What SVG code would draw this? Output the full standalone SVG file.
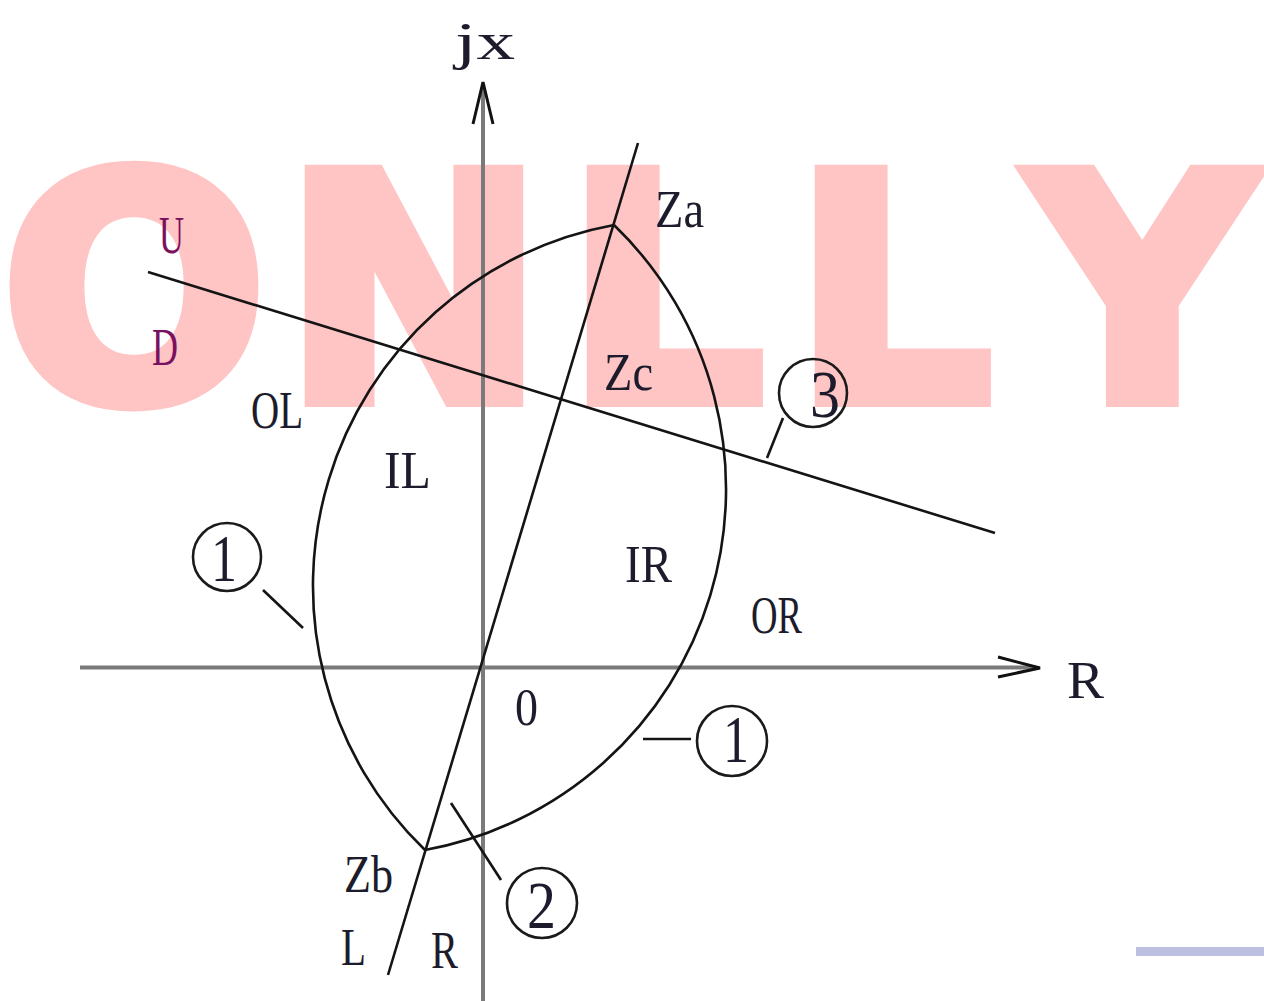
<svg xmlns="http://www.w3.org/2000/svg" width="1264" height="1001" viewBox="0 0 1264 1001">
<style>
.wm{font-family:"DejaVu Sans",sans-serif;font-weight:bold;font-size:313px;fill:#ffc4c4;stroke:#ffc4c4;stroke-width:14px;stroke-linejoin:miter}
.ln{fill:none;stroke:#141414;stroke-width:2.6}
.ax{fill:none;stroke:#7a7a7a;stroke-width:4}
.lb{font-family:"Liberation Serif",serif;font-size:52px;fill:#1c1c2c}
.ud{font-family:"Liberation Serif",serif;font-size:52px;fill:#7a1060}
.dg{font-family:"Liberation Serif",serif;font-size:68px;fill:#1c1c2c}
.ci{fill:none;stroke:#1a1a1a;stroke-width:2.6}
</style>
<rect width="1264" height="1001" fill="#ffffff"/>
<text class="wm" x="1 283 565 793 1029" y="400">ONLLY</text>
<g id="axes">
<line class="ax" x1="483" y1="1001" x2="483" y2="86"/>
<path d="M473 124 L483 82 L493 124" fill="none" stroke="#111" stroke-width="3"/>
<line class="ax" x1="80" y1="667.5" x2="1036" y2="667.5"/>
<path d="M998 657 L1040 668 L998 677" fill="none" stroke="#111" stroke-width="3"/>
<text class="lb" x="455" y="59" font-size="64" textLength="60" lengthAdjust="spacingAndGlyphs">jx</text>
<text class="lb" x="1067" y="698" font-size="70" textLength="37" lengthAdjust="spacingAndGlyphs">R</text>
</g>
<g id="connectors">
<path id="curve1" class="ln" d="M614 225 A367 367 0 0 0 425 850 A367 367 0 0 0 614 225"/>
<line id="line2" class="ln" x1="638" y1="143" x2="388" y2="975"/>
<line id="line3" class="ln" x1="148" y1="272" x2="995" y2="533"/>
<line class="ln" x1="263" y1="590" x2="303" y2="628"/>
<line class="ln" x1="643" y1="739" x2="691" y2="739"/>
<line class="ln" x1="451" y1="803" x2="501" y2="880"/>
<line class="ln" x1="767" y1="458" x2="783" y2="418"/>
</g>
<g id="label-Za"><text class="lb" x="655" y="227" textLength="49" lengthAdjust="spacingAndGlyphs">Za</text></g>
<g id="label-Zb"><text class="lb" x="344" y="892" textLength="49" lengthAdjust="spacingAndGlyphs">Zb</text></g>
<g id="label-Zc"><text class="lb" x="604" y="390" textLength="49" lengthAdjust="spacingAndGlyphs">Zc</text></g>
<g id="label-U"><text class="ud" x="159" y="253" textLength="25" lengthAdjust="spacingAndGlyphs">U</text></g>
<g id="label-D"><text class="ud" x="152" y="365" textLength="26" lengthAdjust="spacingAndGlyphs">D</text></g>
<g id="label-OL"><text class="lb" x="251" y="428" textLength="52" lengthAdjust="spacingAndGlyphs">OL</text></g>
<g id="label-IL"><text class="lb" x="384" y="488" textLength="47" lengthAdjust="spacingAndGlyphs">IL</text></g>
<g id="label-IR"><text class="lb" x="625" y="582" textLength="47" lengthAdjust="spacingAndGlyphs">IR</text></g>
<g id="label-OR"><text class="lb" x="751" y="633" textLength="51" lengthAdjust="spacingAndGlyphs">OR</text></g>
<g id="label-0"><text class="lb" x="515" y="725" textLength="23" lengthAdjust="spacingAndGlyphs">0</text></g>
<g id="label-L"><text class="lb" x="341" y="965" textLength="25" lengthAdjust="spacingAndGlyphs">L</text></g>
<g id="label-R"><text class="lb" x="431" y="968" textLength="27" lengthAdjust="spacingAndGlyphs">R</text></g>
<g id="mark-1-left"><circle class="ci" cx="227" cy="557" r="34"/><text class="dg" x="211" y="581" textLength="26" lengthAdjust="spacingAndGlyphs">1</text></g>
<g id="mark-1-right"><circle class="ci" cx="732" cy="741" r="35"/><text class="dg" x="723" y="762" textLength="26" lengthAdjust="spacingAndGlyphs">1</text></g>
<g id="mark-2"><circle class="ci" cx="542" cy="903" r="35"/><text class="dg" x="527" y="928" textLength="29" lengthAdjust="spacingAndGlyphs">2</text></g>
<g id="mark-3"><circle class="ci" cx="813" cy="393" r="34"/><text class="dg" x="810" y="417" textLength="30" lengthAdjust="spacingAndGlyphs">3</text></g>
<rect x="1136" y="947" width="128" height="9" fill="#bdbfe0"/>
</svg>
